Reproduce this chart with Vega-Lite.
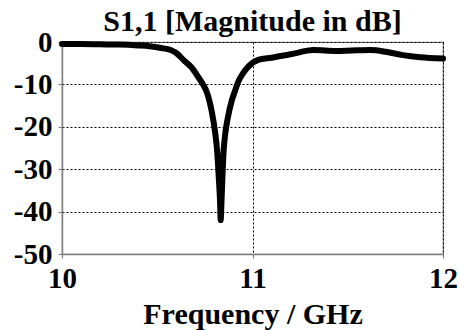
{
  "$schema": "https://vega.github.io/schema/vega-lite/v6.json",
  "autosize": {"type": "none"},
  "width": 381,
  "height": 212,
  "padding": {"left": 62, "top": 42, "right": 17, "bottom": 76},
  "background": "white",
  "title": {
    "text": "S1,1 [Magnitude in dB]",
    "font": "Liberation Serif",
    "fontSize": 30,
    "fontWeight": "bold",
    "color": "black",
    "anchor": "middle",
    "frame": "group",
    "baseline": "alphabetic",
    "offset": -33
  },
  "config": {
    "view": {"stroke": "#808080", "strokeWidth": 1.2},
    "axis": {
      "domainColor": "#808080",
      "domainWidth": 1.5,
      "tickColor": "#808080",
      "tickSize": 4,
      "tickWidth": 1.2,
      "labelFont": "Liberation Serif",
      "labelFontSize": 29,
      "labelFontWeight": "bold",
      "labelColor": "black",
      "titleFont": "Liberation Serif",
      "titleFontSize": 30,
      "titleFontWeight": "bold",
      "titleColor": "black",
      "gridColor": "black",
      "gridDash": [2, 2],
      "gridWidth": 1,
      "gridOpacity": 1
    }
  },
  "data": {
    "values": [
      {"f": 10.0, "s": -0.5},
      {"f": 10.1, "s": -0.5},
      {"f": 10.2, "s": -0.55},
      {"f": 10.3, "s": -0.6},
      {"f": 10.4, "s": -0.8},
      {"f": 10.46, "s": -1.0},
      {"f": 10.52, "s": -1.4},
      {"f": 10.57, "s": -1.9},
      {"f": 10.6, "s": -2.6},
      {"f": 10.637, "s": -4.2},
      {"f": 10.68, "s": -6.0},
      {"f": 10.71, "s": -7.9},
      {"f": 10.74, "s": -10.0},
      {"f": 10.76, "s": -11.8},
      {"f": 10.786, "s": -16.4},
      {"f": 10.803, "s": -21},
      {"f": 10.815, "s": -26},
      {"f": 10.823, "s": -32},
      {"f": 10.83, "s": -38},
      {"f": 10.833, "s": -42},
      {"f": 10.837, "s": -38},
      {"f": 10.842, "s": -32},
      {"f": 10.848, "s": -26},
      {"f": 10.856, "s": -22},
      {"f": 10.87, "s": -18},
      {"f": 10.89, "s": -14},
      {"f": 10.91, "s": -11.3},
      {"f": 10.925, "s": -9.4},
      {"f": 10.95, "s": -7.4},
      {"f": 10.978, "s": -5.8},
      {"f": 11.03, "s": -4.2},
      {"f": 11.1, "s": -3.7},
      {"f": 11.2, "s": -2.9},
      {"f": 11.32, "s": -1.9},
      {"f": 11.44, "s": -2.1},
      {"f": 11.52, "s": -2.0},
      {"f": 11.62, "s": -1.9},
      {"f": 11.7, "s": -2.3},
      {"f": 11.79, "s": -3.1},
      {"f": 11.88, "s": -3.6},
      {"f": 12.0, "s": -3.9}
    ]
  },
  "mark": {"type": "line", "color": "black", "strokeWidth": 6, "strokeCap": "round", "strokeJoin": "round", "interpolate": "monotone"},
  "encoding": {
    "x": {
      "field": "f",
      "type": "quantitative",
      "scale": {"domain": [10, 12], "nice": false, "zero": false},
      "axis": {"values": [10, 11, 12], "labelExpr": "'' + datum.value", "title": "Frequency / GHz", "labelFlush": false, "labelPadding": 6, "titlePadding": 6}
    },
    "y": {
      "field": "s",
      "type": "quantitative",
      "scale": {"domain": [-50, 0], "nice": false, "zero": false},
      "axis": {"values": [-50, -40, -30, -20, -10, 0], "labelExpr": "'' + datum.value", "title": null, "labelPadding": 6}
    }
  }
}
